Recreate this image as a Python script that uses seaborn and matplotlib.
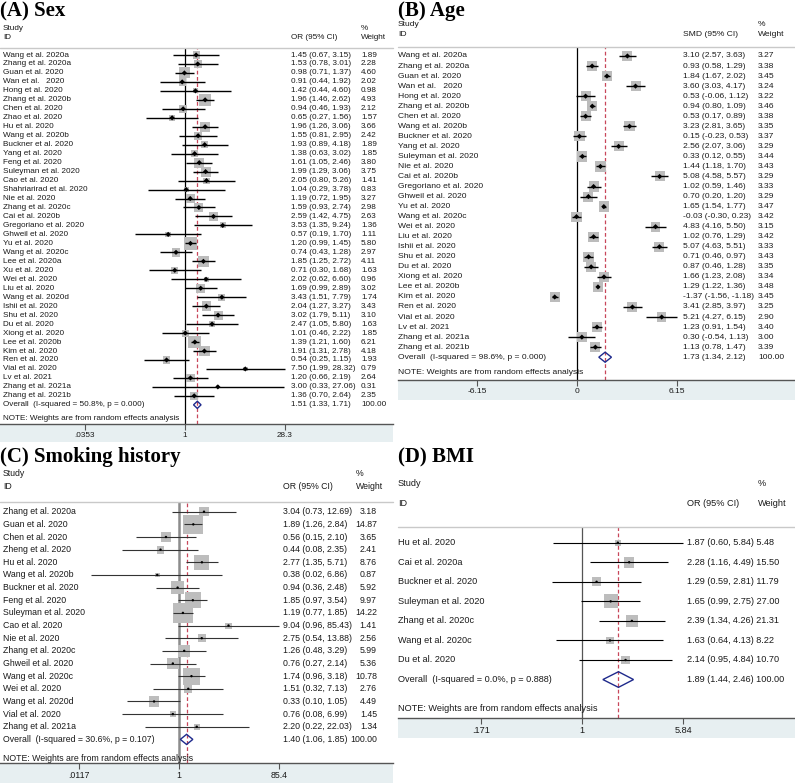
import numpy as np
import pandas as pd
import matplotlib
matplotlib.use('Agg')
import matplotlib.pyplot as plt
import seaborn as sns
from matplotlib import transforms
from matplotlib.patches import Polygon, Rectangle
from matplotlib.lines import Line2D

# ---------------- data ----------------
sex_study = ['Wang et al. 2020a', 'Zhang et al. 2020a', 'Guan et al. 2020', 'Wan et al.   2020',
             'Hong et al. 2020', 'Zhang et al. 2020b', 'Chen et al. 2020', 'Zhao et al. 2020',
             'Hu et al. 2020', 'Wang et al. 2020b', 'Buckner et al. 2020', 'Yang et al. 2020',
             'Feng et al. 2020', 'Suleyman et al. 2020', 'Cao et al. 2020', 'Shahriarirad et al. 2020',
             'Nie et al. 2020', 'Zhang et al. 2020c', 'Cai et al. 2020b', 'Gregoriano et al. 2020',
             'Ghweil et al. 2020', 'Yu et al. 2020', 'Wang et al. 2020c', 'Lee et al. 2020a',
             'Xu et al. 2020', 'Wei et al. 2020', 'Liu et al. 2020', 'Wang et al. 2020d',
             'Ishii et al. 2020', 'Shu et al. 2020', 'Du et al. 2020', 'Xiong et al. 2020',
             'Lee et al. 2020b', 'Kim et al. 2020', 'Ren et al. 2020', 'Vial et al. 2020',
             'Lv et al. 2021', 'Zhang et al. 2021a', 'Zhang et al. 2021b']
sex_est = [1.45, 1.53, 0.98, 0.91, 1.42, 1.96, 0.94, 0.65, 1.96, 1.55, 1.93, 1.38, 1.61, 1.99, 2.05,
           1.04, 1.19, 1.59, 2.59, 3.53, 0.57, 1.20, 0.74, 1.85, 0.71, 2.02, 1.69, 3.43, 2.04, 3.02,
           2.47, 1.01, 1.39, 1.91, 0.54, 7.50, 1.20, 3.00, 1.36]
sex_lo = [0.67, 0.78, 0.71, 0.44, 0.44, 1.46, 0.46, 0.27, 1.26, 0.81, 0.89, 0.63, 1.05, 1.29, 0.80,
          0.29, 0.72, 0.93, 1.42, 1.35, 0.19, 0.99, 0.43, 1.25, 0.30, 0.62, 0.99, 1.51, 1.27, 1.79,
          1.05, 0.46, 1.21, 1.31, 0.25, 1.99, 0.66, 0.33, 0.70]
sex_hi = [3.15, 3.01, 1.37, 1.92, 4.60, 2.62, 1.93, 1.56, 3.06, 2.95, 4.18, 3.02, 2.46, 3.06, 5.26,
          3.78, 1.95, 2.74, 4.75, 9.24, 1.70, 1.45, 1.28, 2.72, 1.68, 6.60, 2.89, 7.79, 3.27, 5.11,
          5.80, 2.22, 1.60, 2.78, 1.15, 28.32, 2.19, 27.06, 2.64]
sex_wt = [1.89, 2.28, 4.60, 2.02, 0.98, 4.93, 2.12, 1.57, 3.66, 2.42, 1.89, 1.85, 3.80, 3.75, 1.41,
          0.83, 3.27, 2.98, 2.63, 1.36, 1.11, 5.80, 2.97, 4.11, 1.63, 0.96, 3.02, 1.74, 3.43, 3.10,
          1.63, 1.85, 6.21, 4.18, 1.93, 0.79, 2.64, 0.31, 2.35]
sex_overall = (1.51, 1.33, 1.71)
sex_overall_label = 'Overall  (I-squared = 50.8%, p = 0.000)'
sex_ticks = [0.0353, 1, 28.3]
sex_ticklabels = ['.0353', '1', '28.3']

age_study = ['Wang et al. 2020a', 'Zhang et al. 2020a', 'Guan et al. 2020', 'Wan et al.   2020',
             'Hong et al. 2020', 'Zhang et al. 2020b', 'Chen et al. 2020', 'Wang et al. 2020b',
             'Buckner et al. 2020', 'Yang et al. 2020', 'Suleyman et al. 2020', 'Nie et al. 2020',
             'Cai et al. 2020b', 'Gregoriano et al. 2020', 'Ghweil et al. 2020', 'Yu et al. 2020',
             'Wang et al. 2020c', 'Wei et al. 2020', 'Liu et al. 2020', 'Ishii et al. 2020',
             'Shu et al. 2020', 'Du et al. 2020', 'Xiong et al. 2020', 'Lee et al. 2020b',
             'Kim et al. 2020', 'Ren et al. 2020', 'Vial et al. 2020', 'Lv et al. 2021',
             'Zhang et al. 2021a', 'Zhang et al. 2021b']
age_est = [3.10, 0.93, 1.84, 3.60, 0.53, 0.94, 0.53, 3.23, 0.15, 2.56, 0.33, 1.44, 5.08, 1.02, 0.70,
           1.65, -0.03, 4.83, 1.02, 5.07, 0.71, 0.87, 1.66, 1.29, -1.37, 3.41, 5.21, 1.23, 0.30, 1.13]
age_lo = [2.57, 0.58, 1.67, 3.03, -0.06, 0.80, 0.17, 2.81, -0.23, 2.07, 0.12, 1.18, 4.58, 0.59, 0.20,
          1.54, -0.30, 4.16, 0.76, 4.63, 0.46, 0.46, 1.23, 1.22, -1.56, 2.85, 4.27, 0.91, -0.54, 0.78]
age_hi = [3.63, 1.29, 2.02, 4.17, 1.12, 1.09, 0.89, 3.65, 0.53, 3.06, 0.55, 1.70, 5.57, 1.46, 1.20,
          1.77, 0.23, 5.50, 1.29, 5.51, 0.97, 1.28, 2.08, 1.36, -1.18, 3.97, 6.15, 1.54, 1.13, 1.47]
age_wt = [3.27, 3.38, 3.45, 3.24, 3.22, 3.46, 3.38, 3.35, 3.37, 3.29, 3.44, 3.43, 3.29, 3.33, 3.29,
          3.47, 3.42, 3.15, 3.42, 3.33, 3.43, 3.35, 3.34, 3.48, 3.45, 3.25, 2.90, 3.40, 3.00, 3.39]
age_overall = (1.73, 1.34, 2.12)
age_overall_label = 'Overall  (I-squared = 98.6%, p = 0.000)'
age_ticks = [-6.15, 0, 6.15]
age_ticklabels = ['-6.15', '0', '6.15']

smk_study = ['Zhang et al. 2020a', 'Guan et al. 2020', 'Chen et al. 2020', 'Zheng et al. 2020',
             'Hu et al. 2020', 'Wang et al. 2020b', 'Buckner et al. 2020', 'Feng et al. 2020',
             'Suleyman et al. 2020', 'Cao et al. 2020', 'Nie et al. 2020', 'Zhang et al. 2020c',
             'Ghweil et al. 2020', 'Wang et al. 2020c', 'Wei et al. 2020', 'Wang et al. 2020d',
             'Vial et al. 2020', 'Zhang et al. 2021a']
smk_est = [3.04, 1.89, 0.56, 0.44, 2.77, 0.38, 0.94, 1.85, 1.19, 9.04, 2.75, 1.26, 0.76, 1.74, 1.51,
           0.33, 0.76, 2.20]
smk_lo = [0.73, 1.26, 0.15, 0.08, 1.35, 0.02, 0.36, 0.97, 0.77, 0.96, 0.54, 0.48, 0.27, 0.96, 0.32,
          0.10, 0.08, 0.22]
smk_hi = [12.69, 2.84, 2.10, 2.35, 5.71, 6.86, 2.48, 3.54, 1.85, 85.43, 13.88, 3.29, 2.14, 3.18, 7.13,
          1.05, 6.99, 22.03]
smk_wt = [3.18, 14.87, 3.65, 2.41, 8.76, 0.87, 5.92, 9.97, 14.22, 1.41, 2.56, 5.99, 5.36, 10.78, 2.76,
          4.49, 1.45, 1.34]
smk_overall = (1.40, 1.06, 1.85)
smk_overall_label = 'Overall  (I-squared = 30.6%, p = 0.107)'
smk_ticks = [0.0117, 1, 85.4]
smk_ticklabels = ['.0117', '1', '85.4']

bmi_study = ['Hu et al. 2020', 'Cai et al. 2020a', 'Buckner et al. 2020', 'Suleyman et al. 2020',
             'Zhang et al. 2020c', 'Wang et al. 2020c', 'Du et al. 2020']
bmi_est = [1.87, 2.28, 1.29, 1.65, 2.39, 1.63, 2.14]
bmi_lo = [0.60, 1.16, 0.59, 0.99, 1.34, 0.64, 0.95]
bmi_hi = [5.84, 4.49, 2.81, 2.75, 4.26, 4.13, 4.84]
bmi_wt = [5.48, 15.50, 11.79, 27.00, 21.31, 8.22, 10.70]
bmi_overall = (1.89, 1.44, 2.46)
bmi_overall_label = 'Overall  (I-squared = 0.0%, p = 0.888)'
bmi_ticks = [0.171, 1, 5.84]
bmi_ticklabels = ['.171', '1', '5.84']

note = 'NOTE: Weights are from random effects analysis'

# ---------------- figure ----------------
W, H = 795, 783
sns.set_theme(style='white')
plt.rcParams['font.family'] = ['Liberation Sans', 'DejaVu Sans']

fig = plt.figure(figsize=(W / 100, H / 100), dpi=100)
fig.patch.set_facecolor('white')

TXT = '#1a1a1a'
BAND = '#e7eff1'
RED = '#c8475a'
NAVY = '#1f2a8c'


def fx(x):
    return x / W


def fy(y):
    return 1 - y / H


def forest(title, study, est, lo, hi, wt, overall, overall_label, ticks, ticklabels, measure,
           left, right, sep, axis_y, band_end, row0, pitch, px_null, ppu, log,
           fs, name_x, ci_x, wt_x, wt_align, head_y, title_y, smax, half_h,
           box_color, line_color, line_w, null_color, null_w, dot_marker, dot_s, join_wt=False):
    n = len(study)
    df = pd.DataFrame({'study': study, 'est': est, 'lo': lo, 'hi': hi, 'wt': wt, 'row': np.arange(n)})

    ax = fig.add_axes([fx(left), fy(axis_y), (right - left) / W, (axis_y - sep) / H])
    ax.patch.set_alpha(0)
    if log:
        ax.set_xscale('log')
        ax.set_xlim(np.exp((left - px_null) / ppu), np.exp((right - px_null) / ppu))
    else:
        ax.set_xlim((left - px_null) / ppu, (right - px_null) / ppu)
    ax.set_ylim((axis_y - row0) / pitch, (sep - row0) / pitch)

    xmax_tick = ticks[-1]
    hi_clip = np.minimum(df['hi'], xmax_tick)

    # boxes, area proportional to weight
    sns.scatterplot(data=df, x='est', y='row', size='wt', sizes=(0, smax), size_norm=(0, df['wt'].max()),
                    marker='s', color=box_color, edgecolor='none', linewidth=0, legend=False, ax=ax, zorder=1)
    ax.hlines(df['row'], df['lo'], hi_clip, color=line_color, lw=line_w, zorder=2)
    for _, r in df[df['hi'] > xmax_tick * 1.01].iterrows():
        ax.annotate('', xy=(xmax_tick, r['row']), xytext=(r['lo'], r['row']),
                    arrowprops=dict(arrowstyle='-|>', color=line_color, lw=line_w,
                                    mutation_scale=6, shrinkA=0, shrinkB=0), zorder=2)
    sns.scatterplot(data=df, x='est', y='row', marker=dot_marker, s=dot_s, color='black',
                    edgecolor='none', legend=False, ax=ax, zorder=3)

    null = 1 if log else 0
    ax.axvline(null, color=null_color, lw=null_w, zorder=0)
    ax.axvline(overall[0], color=RED, lw=0.9, ls=(0, (3, 2)), zorder=0.5)

    oe, ol, oh = overall
    ax.add_patch(Polygon([(ol, n), (oe, n - half_h), (oh, n), (oe, n + half_h)], closed=True,
                         facecolor='none', edgecolor=NAVY, lw=1.0, zorder=3))

    ax.set_xticks(ticks)
    ax.set_xticklabels(ticklabels)
    ax.set_xticks([], minor=True)
    ax.set_yticks([])
    ax.tick_params(axis='x', direction='out', length=4, width=0.8, color='#555555',
                   labelsize=fs, labelcolor=TXT, pad=1.5, bottom=True)
    for s in ['top', 'left', 'right']:
        ax.spines[s].set_visible(False)
    ax.spines['bottom'].set_color('#555555')
    ax.spines['bottom'].set_linewidth(1.0)
    ax.set_xlabel('')
    ax.set_ylabel('')

    # text columns
    tr = transforms.blended_transform_factory(fig.transFigure, ax.transData)
    for _, r in df.iterrows():
        ci = f"{r['est']:.2f} ({r['lo']:.2f}, {r['hi']:.2f})"
        ax.text(fx(name_x), r['row'], r['study'], transform=tr, fontsize=fs, color=TXT, va='center')
        if join_wt:
            ax.text(fx(ci_x), r['row'], f"{ci} {r['wt']:.2f}", transform=tr, fontsize=fs, color=TXT, va='center')
        else:
            ax.text(fx(ci_x), r['row'], ci, transform=tr, fontsize=fs, color=TXT, va='center')
            ax.text(fx(wt_x), r['row'], f"{r['wt']:.2f}", transform=tr, fontsize=fs, color=TXT,
                    va='center', ha=wt_align)
    oci = f"{oe:.2f} ({ol:.2f}, {oh:.2f})"
    ax.text(fx(name_x), n, overall_label, transform=tr, fontsize=fs, color=TXT, va='center')
    if join_wt:
        ax.text(fx(ci_x), n, f"{oci} 100.00", transform=tr, fontsize=fs, color=TXT, va='center')
    else:
        ax.text(fx(ci_x), n, oci, transform=tr, fontsize=fs, color=TXT, va='center')
        ax.text(fx(wt_x), n, '100.00', transform=tr, fontsize=fs, color=TXT, va='center', ha=wt_align)
    ax.text(fx(name_x), n + 1.5, note, transform=tr, fontsize=fs, color=TXT, va='center')

    # headers
    hx_pct = wt_x if wt_align == 'left' else wt_x - 21
    fig.text(fx(name_x), fy(head_y[0]), 'Study', fontsize=fs, color=TXT, va='center')
    fig.text(fx(name_x), fy(head_y[1]), 'ID', fontsize=fs, color=TXT, va='center')
    fig.text(fx(ci_x), fy(head_y[1]), f'{measure} (95% CI)', fontsize=fs, color=TXT, va='center')
    fig.text(fx(hx_pct), fy(head_y[0]), '%', fontsize=fs, color=TXT, va='center')
    fig.text(fx(hx_pct), fy(head_y[1]), 'Weight', fontsize=fs, color=TXT, va='center')
    fig.add_artist(Line2D([fx(left), fx(right)], [fy(sep), fy(sep)], transform=fig.transFigure,
                          color='#c9c9c9', lw=1.0))
    fig.add_artist(Rectangle((fx(left), fy(band_end)), (right - left) / W, (band_end - axis_y) / H,
                             transform=fig.transFigure, facecolor=BAND, edgecolor='none', zorder=-1))
    fig.text(fx(left), fy(title_y), title, fontsize=15, fontweight='bold', color='black',
             family=['Liberation Serif', 'DejaVu Serif'], va='baseline')


forest('(A) Sex', sex_study, sex_est, sex_lo, sex_hi, sex_wt, sex_overall, sex_overall_label,
       sex_ticks, sex_ticklabels, 'OR',
       left=0, right=393, sep=48, axis_y=424, band_end=442, row0=55, pitch=8.97,
       px_null=185, ppu=100 / np.log(28.3), log=True,
       fs=5.9, name_x=3, ci_x=291, wt_x=361, wt_align='left', head_y=(28.3, 37.3), title_y=16.5,
       smax=85, half_h=0.4, box_color='#bcbcbc', line_color='black', line_w=1.0,
       null_color='black', null_w=0.9, dot_marker='D', dot_s=7)

forest('(B) Age', age_study, age_est, age_lo, age_hi, age_wt, age_overall, age_overall_label,
       age_ticks, age_ticklabels, 'SMD',
       left=398, right=795, sep=47, axis_y=380, band_end=400, row0=56, pitch=10.04,
       px_null=577, ppu=100 / 6.15, log=False,
       fs=6.1, name_x=398, ci_x=683, wt_x=758, wt_align='left', head_y=(25, 35), title_y=16,
       smax=55, half_h=0.5, box_color='#bcbcbc', line_color='black', line_w=1.0,
       null_color='black', null_w=0.9, dot_marker='D', dot_s=7)

forest('(C) Smoking history', smk_study, smk_est, smk_lo, smk_hi, smk_wt, smk_overall, smk_overall_label,
       smk_ticks, smk_ticklabels, 'OR',
       left=0, right=393, sep=502, axis_y=763, band_end=783, row0=511.7, pitch=12.65,
       px_null=179, ppu=100 / np.log(85.4), log=True,
       fs=6.3, name_x=3, ci_x=283, wt_x=377, wt_align='right', head_y=(474, 487), title_y=462,
       smax=200, half_h=0.4, box_color='#bdbdbd', line_color='#333333', line_w=0.8,
       null_color='#8c8c8c', null_w=1.8, dot_marker='o', dot_s=3)

forest('(D) BMI', bmi_study, bmi_est, bmi_lo, bmi_hi, bmi_wt, bmi_overall, bmi_overall_label,
       bmi_ticks, bmi_ticklabels, 'OR',
       left=398, right=795, sep=527, axis_y=718, band_end=738, row0=542.7, pitch=19.55,
       px_null=582, ppu=101 / np.log(5.84), log=True,
       fs=6.6, name_x=398, ci_x=687, wt_x=758, wt_align='left', head_y=(483, 503), title_y=462,
       smax=100, half_h=0.4, box_color='#bdbdbd', line_color='black', line_w=0.8,
       null_color='#555555', null_w=0.9, dot_marker='o', dot_s=3, join_wt=True)

fig.savefig('out.png', dpi=100, facecolor='white')
